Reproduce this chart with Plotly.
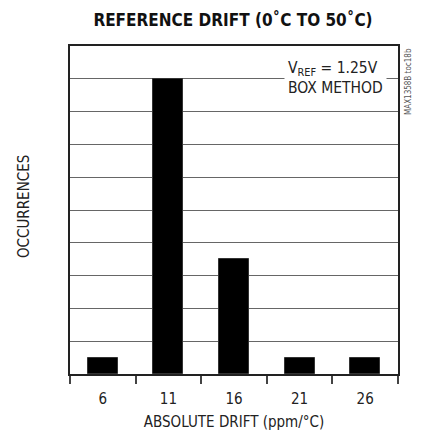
import plotly.graph_objects as go

drift_bins = [6, 11, 16, 21, 26]
occurrences = [1, 18, 7, 1, 1]
bin_edges = [3.5, 8.5, 13.5, 18.5, 23.5, 28.5]
tick_labels = ["6", "11", "16", "21", "26"]

FONT = "DejaVu Sans Condensed, Liberation Sans, sans-serif"

fig = go.Figure()
fig.add_trace(go.Bar(
    x=drift_bins, y=occurrences, width=2.3,
    marker=dict(color="#000000", line=dict(color="#333333", width=1)),
    hoverinfo="skip",
))

fig.update_layout(
    width=425, height=434,
    margin=dict(l=70, r=27, t=46, b=60, autoexpand=False),
    paper_bgcolor="white", plot_bgcolor="white",
    showlegend=False,
    font=dict(family=FONT, color="#222222", size=15),
    title=dict(text="<b>REFERENCE DRIFT (0˚C TO 50˚C)</b>", x=233/425, xanchor="center",
               y=1 - 20/434, yanchor="middle",
               font=dict(family=FONT, size=17, color="#111111")),
    xaxis=dict(range=[bin_edges[0], bin_edges[-1]], tickvals=drift_bins, ticktext=tick_labels,
               ticks="", showgrid=False, zeroline=False, automargin=False,
               ticklabelstandoff=10,
               showline=True, linecolor="#222222", linewidth=2, mirror=True,
               tickfont=dict(size=15, color="#222222"),
               minor=dict(tickvals=bin_edges, ticks="outside", ticklen=8, tickwidth=1.5,
                          tickcolor="#444444", showgrid=False),
               title=dict(text="ABSOLUTE DRIFT (ppm/°C)", font=dict(size=15, color="#222222"),
                          standoff=9)),
    yaxis=dict(range=[0, 20], dtick=2, showticklabels=False, ticks="", automargin=False,
               showgrid=True, gridcolor="#666666", gridwidth=1, zeroline=False,
               showline=True, linecolor="#222222", linewidth=2, mirror=True),
    bargap=0,
)

fig.add_annotation(
    x=(24 - 70) / 328, y=(374 - 206) / 328, xref="paper", yref="paper",
    xanchor="center", yanchor="middle",
    text="OCCURRENCES", textangle=-90, showarrow=False,
    font=dict(family=FONT, size=15, color="#222222"),
)

fig.add_annotation(
    x=(387 - 70) / 328, y=(374 - 55) / 328, xref="paper", yref="paper",
    xanchor="right", yanchor="top",
    text="V<sub>REF</sub> = 1.25V<br>BOX METHOD", align="left", showarrow=False,
    bgcolor="white", borderpad=3,
    font=dict(family=FONT, size=15.5, color="#222222"),
)

fig.add_annotation(
    x=(408 - 70) / 328, y=(374 - 82) / 328, xref="paper", yref="paper",
    xanchor="center", yanchor="middle",
    text="MAX1358B toc18b", textangle=-90, showarrow=False,
    font=dict(family=FONT, size=8, color="#555555"),
)

fig.write_html("out.html", config={"displayModeBar": False},
               post_script="document.body.style.margin='0';")
